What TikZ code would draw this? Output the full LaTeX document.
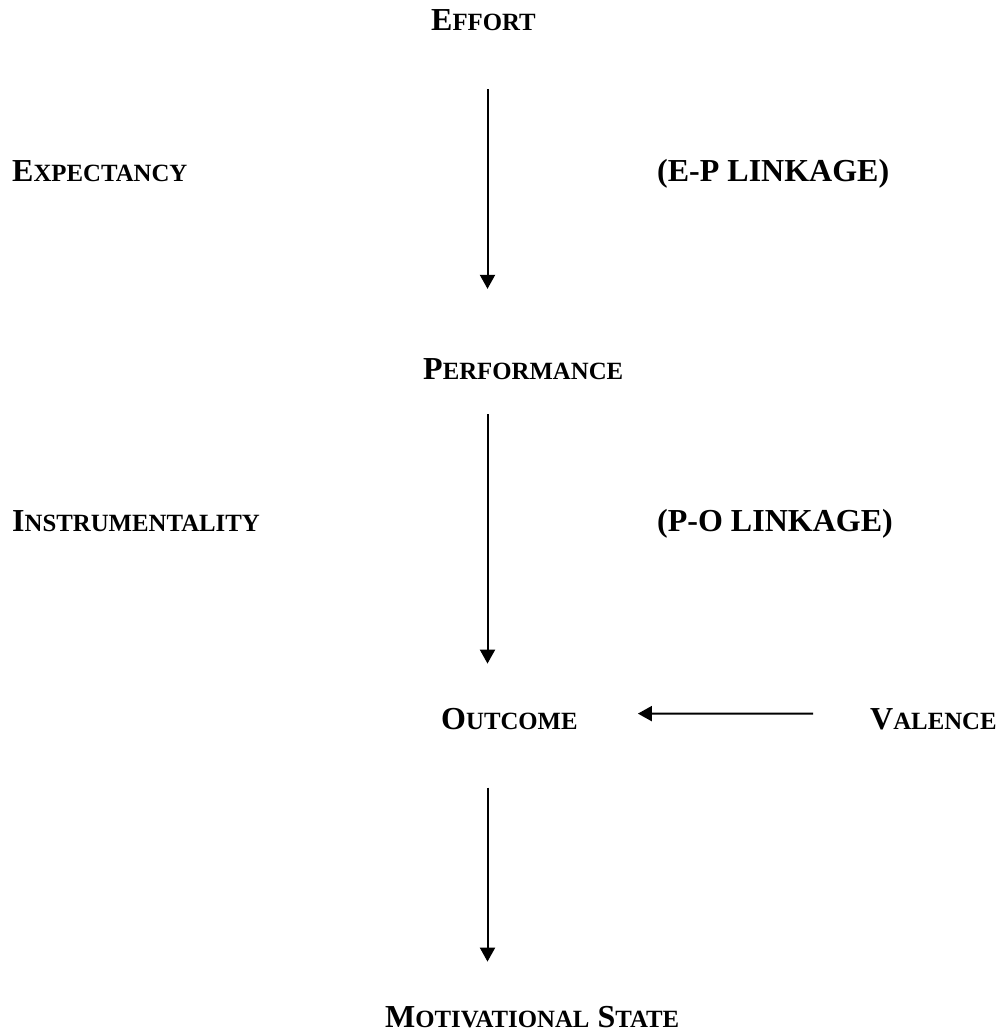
\documentclass[tikz,border=0pt]{standalone}
\usepackage{fontspec}
\setmainfont{Liberation Serif}
\usetikzlibrary{arrows.meta}

\newcommand{\scword}[2]{{\fontsize{32}{38}\selectfont #1}{\fontsize{24.8}{30}\selectfont #2}}

\tikzset{
    label text/.style={anchor=base west, inner sep=0pt, font=\fontsize{32}{38}\selectfont\bfseries},
    link arrow/.style={line width=2pt, -{Triangle[width=15pt,length=14pt]}}
}

\begin{document}
\begin{tikzpicture}[x=1pt,y=-1pt]
    \useasboundingbox (0,0) rectangle (1002,1032);
    \coordinate (axis) at (487.5,0);

    \node [label text] (effort) at (431,31) {\scword{E}{FFORT}};
    \node [label text] (expectancy) at (12,182) {\scword{E}{XPECTANCY}};
    \node [label text] (eplink) at (657,182) {(E-P LINKAGE)};
    \node [label text] (performance) at (423,379) {\scword{P}{ERFORMANCE}};
    \node [label text] (instrument) at (12,531) {\scword{I}{NSTRUMENTALITY}};
    \node [label text] (polink) at (657,531) {(P-O LINKAGE)};
    \node [label text] (outcome) at (441,729) {\scword{O}{UTCOME}};
    \node [label text] (valence) at (870,729) {\scword{V}{ALENCE}};
    \node [label text] (motivation) at (385,1027) {\scword{M}{OTIVATIONAL} \scword{S}{TATE}};

    \draw [link arrow, shorten <=58pt, shorten >=69pt]
        (effort.south -| axis) -- (performance.north -| axis);
    \draw [link arrow, shorten <=35pt, shorten >=44pt]
        (performance.south -| axis) -- (outcome.north -| axis);
    \draw [link arrow, shorten <=58pt, shorten >=44pt]
        (outcome.south -| axis) -- (motivation.north -| axis);
    \draw [link arrow, shorten <=57pt, shorten >=60pt]
        ([yshift=5pt]valence.west) -- ([yshift=5pt]outcome.east);
\end{tikzpicture}
\end{document}
